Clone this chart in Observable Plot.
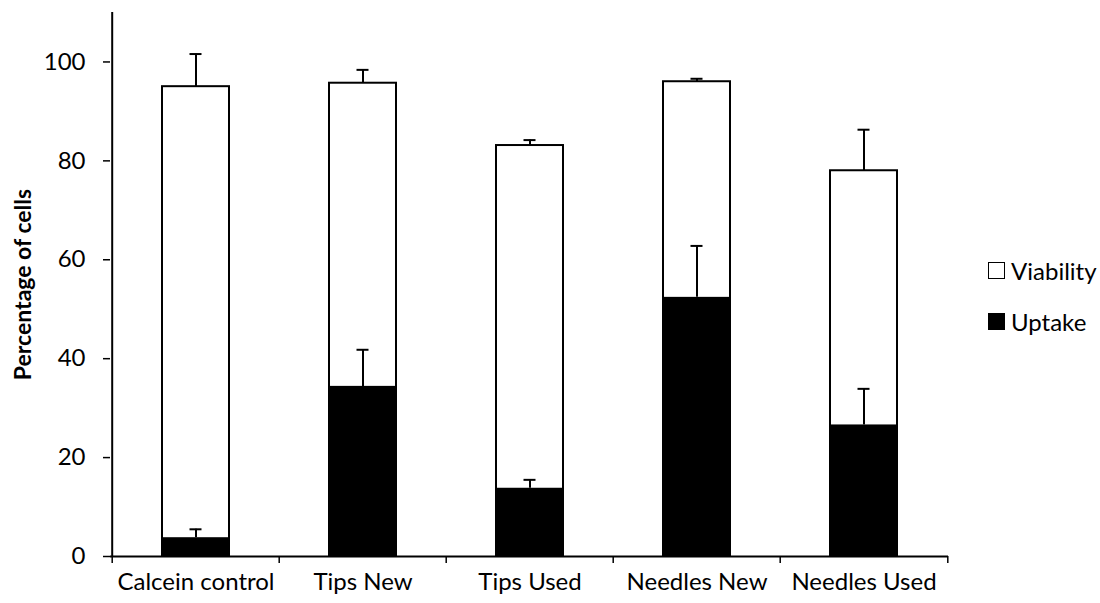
<!DOCTYPE html>
<html>
<head>
<meta charset="utf-8">
<script src="https://cdn.jsdelivr.net/npm/d3@7"></script>
<script src="https://cdn.jsdelivr.net/npm/@observablehq/plot@0.6"></script>
<style>
  body { margin: 0; background: #fff; font-family: Lato, "Open Sans", sans-serif; }
  #wrap { position: relative; width: 1100px; height: 603px; }
  #legend { position: absolute; left: 988px; top: 255px; font-size: 24px; color: #000; }
  .item { display: flex; align-items: center; height: 30px; margin-bottom: 21px; }
  .sw { width: 17px; height: 17px; box-sizing: border-box; border: 1.5px solid #000; margin-right: 6px; }
  svg [aria-label="y-axis label"] text { font-weight: bold; font-size: 23px; }
</style>
</head>
<body>
<div id="wrap"></div>
<script>
const categories = ["Calcein control", "Tips New", "Tips Used", "Needles New", "Needles Used"];
const viability = [95.0, 95.7, 83.1, 96.0, 78.0];
const viabilityErr = [6.6, 2.7, 1.1, 0.6, 8.3];
const uptake = [3.8, 34.4, 13.8, 52.4, 26.6];
const uptakeErr = [1.7, 7.4, 1.7, 10.4, 7.3];
const yTicks = [0, 20, 40, 60, 80, 100];
const yMax = 110;
const seriesNames = ["Viability", "Uptake"];
const seriesColors = ["#fff", "#000"];
const yLabel = "Percentage of cells";

const rows = categories.map((c, i) => ({
  cat: c, via: viability[i], viaE: viability[i] + viabilityErr[i],
  up: uptake[i], upE: uptake[i] + uptakeErr[i]
}));

const W = 1100, H = 603, mL = 110, mR = 152;
const step = (W - mL - mR) / categories.length;

const chart = Plot.plot({
  width: W, height: H,
  marginLeft: mL, marginRight: mR, marginTop: 12, marginBottom: 47,
  style: { fontFamily: "Lato, 'Open Sans', sans-serif", fontSize: "24px", color: "#000", background: "#fff" },
  x: { domain: categories, paddingInner: 0.6, paddingOuter: 0.3, label: null },
  y: { domain: [0, yMax], label: null },
  marks: [
    Plot.axisX({ tickSize: 0, tickPadding: 16, fontSize: 24 }),
    Plot.axisY({ ticks: yTicks, tickSize: 7, tickPadding: 18, fontSize: 24, strokeWidth: 1.5,
      label: yLabel, labelAnchor: "center", labelOffset: 96 }),
    Plot.ruleY([0], { stroke: "#000", strokeWidth: 2 }),
    Plot.ruleX(rows.slice(0, 1), { x: "cat", dx: -step / 2, y1: () => 0, y2: () => yMax, stroke: "#000", strokeWidth: 2 }),
    Plot.ruleX(rows, { x: "cat", dx: -step / 2, y1: () => 0, y2: () => 0, insetBottom: -7, stroke: "#000", strokeWidth: 1.5 }),
    Plot.ruleX(rows.slice(-1), { x: "cat", dx: step / 2, y1: () => 0, y2: () => 0, insetBottom: -7, stroke: "#000", strokeWidth: 1.5 }),
    Plot.barY(rows, { x: "cat", y1: () => 0, y2: "via", fill: seriesColors[0], stroke: "#000", strokeWidth: 2 }),
    Plot.ruleX(rows, { x: "cat", y1: "via", y2: "viaE", stroke: "#000", strokeWidth: 2 }),
    Plot.tickY(rows, { x: "cat", y: "viaE", stroke: "#000", strokeWidth: 2, insetLeft: 27.5, insetRight: 27.5 }),
    Plot.barY(rows, { x: "cat", y1: () => 0, y2: "up", fill: seriesColors[1] }),
    Plot.ruleX(rows, { x: "cat", y1: "up", y2: "upE", stroke: "#000", strokeWidth: 2 }),
    Plot.tickY(rows, { x: "cat", y: "upE", stroke: "#000", strokeWidth: 2, insetLeft: 27.5, insetRight: 27.5 })
  ]
});

d3.select(chart).selectAll('[aria-label="y-axis label"] text').text(yLabel);

const wrap = document.getElementById("wrap");
wrap.appendChild(chart);

const legend = document.createElement("div");
legend.id = "legend";
seriesNames.forEach((n, i) => {
  const it = document.createElement("div");
  it.className = "item";
  const sw = document.createElement("span");
  sw.className = "sw";
  sw.style.background = seriesColors[i];
  const t = document.createElement("span");
  t.textContent = n;
  it.appendChild(sw); it.appendChild(t);
  legend.appendChild(it);
});
wrap.appendChild(legend);
</script>
</body>
</html>
